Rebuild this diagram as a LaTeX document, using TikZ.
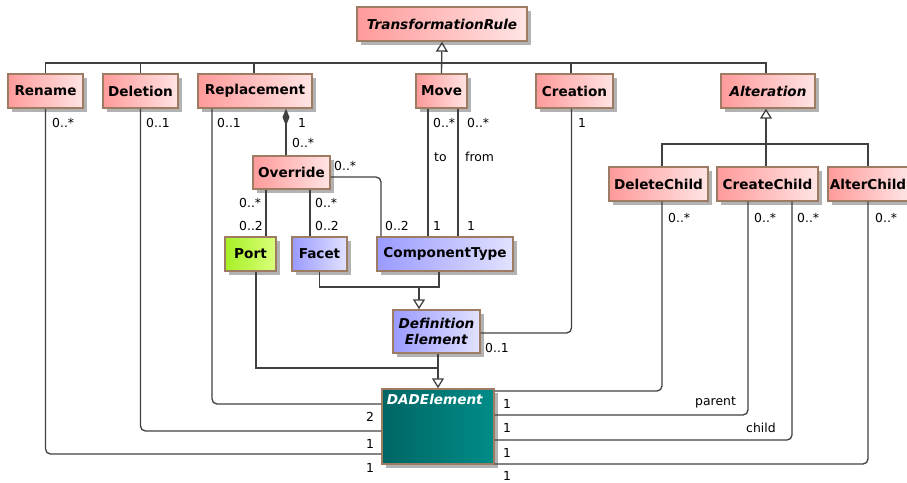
\documentclass[tikz,border=0pt]{standalone}
\usepackage{fontspec}
\setmainfont{DejaVu Sans}
\usetikzlibrary{arrows.meta,shadows}
\definecolor{RuleRed}{HTML}{FF9A9A}
\definecolor{RuleRedLight}{HTML}{FFE4E4}
\definecolor{DefBlue}{HTML}{9A9AFF}
\definecolor{DefBlueLight}{HTML}{E2E2FF}
\definecolor{PortGreen}{HTML}{A6F026}
\definecolor{PortGreenLight}{HTML}{DAFF7A}
\definecolor{DadTeal}{HTML}{006664}
\definecolor{DadTealLight}{HTML}{008C88}
\definecolor{BoxBorder}{HTML}{9E7C64}
\definecolor{LineGray}{HTML}{404040}

\tikzset{
  umlclass/.style={draw=BoxBorder, line width=1.4pt, minimum height=34pt, inner sep=0pt,
    font=\fontsize{13.6}{16}\selectfont\bfseries,
    drop shadow={shadow xshift=4pt, shadow yshift=-4pt, fill=black!30, opacity=1}},
  rulebox/.style={umlclass, left color=RuleRed, right color=RuleRedLight},
  defbox/.style={umlclass, left color=DefBlue, right color=DefBlueLight},
  portbox/.style={umlclass, left color=PortGreen, right color=PortGreenLight},
  dadbox/.style={umlclass, left color=DadTeal, right color=DadTealLight},
  link/.style={draw=LineGray, line width=1.3pt},
  roundlink/.style={link, rounded corners=5pt},
  gen/.style={link, -{Triangle[open, length=10pt, width=12pt]}},
  comp/.style={link, {Diamond[length=17pt, width=7pt, fill=LineGray]}-},
  mult/.style={inner sep=0pt, anchor=base west, font=\fontsize{12.4}{14}\selectfont}
}

\begin{document}
\begin{tikzpicture}[x=1pt, y=-1pt]
    \useasboundingbox (0,0) rectangle (907,482);

    \node[rulebox, minimum width=170pt] (rule) at (442,24) {\textit{TransformationRule}};
    \node[rulebox, minimum width=75pt] (rename) at (45.5,91) {Rename};
    \node[rulebox, minimum width=75pt] (deletion) at (140.5,91) {Deletion};
    \node[rulebox, minimum width=114pt] (replacement) at (255,91) {Replacement};
    \node[rulebox, minimum width=51pt] (move) at (441.5,91) {Move};
    \node[rulebox, minimum width=77pt] (creation) at (574.5,91) {Creation};
    \node[rulebox, minimum width=94pt] (alteration) at (768,91) {\textit{Alteration}};
    \node[rulebox, minimum width=99pt] (deletechild) at (658.5,184) {DeleteChild};
    \node[rulebox, minimum width=101pt] (createchild) at (767.5,184) {CreateChild};
    \node[rulebox, minimum width=80pt] (alterchild) at (868,184) {AlterChild};
    \node[rulebox, minimum width=77pt, minimum height=33pt] (override) at (291.5,172.5) {Override};
    \node[portbox, minimum width=51pt] (port) at (250.5,254) {Port};
    \node[defbox, minimum width=55pt] (facet) at (319.5,254) {Facet};
    \node[defbox, minimum width=136pt] (comptype) at (445,254) {ComponentType};
    \node[defbox, minimum width=87pt, minimum height=43pt, align=center] (defelem) at (436.5,331.5)
      {\textit{Definition}\\\textit{Element}};
    \node[dadbox, minimum width=112pt, minimum height=75pt] (dad) at (438,426.5) {};
    \node[inner sep=0pt, anchor=north, text=white, font=\fontsize{13.6}{16}\selectfont\bfseries]
      (dadname) at ([xshift=-3pt, yshift=-6pt]dad.north) {\textit{DADElement}};

    \coordinate (trbus) at (442,63);
    \coordinate (altbus) at (766,144);
    \coordinate (defjoin) at (419,287);
    \coordinate (dadjoin) at (438,368);

    \draw[gen] (move.north) -- (rule.south);
    \draw[link] (rename.north) |- (trbus);
    \draw[link] ([xshift=-2pt]alteration.north) |- (trbus);
    \draw[link] (deletion.north) -- (deletion.north |- trbus);
    \draw[link] ([xshift=-1pt]replacement.north) -- ([xshift=-1pt]replacement.north |- trbus);
    \draw[link] ([xshift=-3.5pt]creation.north) -- ([xshift=-3.5pt]creation.north |- trbus);

    \draw[gen] ([xshift=-1.5pt]createchild.north) -- ([xshift=-2pt]alteration.south);
    \draw[link] ([xshift=3.5pt]deletechild.north) |- (altbus) -| (alterchild.north);

    \draw[comp] ([xshift=31pt]replacement.south) -- ([xshift=-5.5pt]override.north);
    \draw[link] ([xshift=-25.5pt]override.south) -- ([xshift=15.5pt]port.north);
    \draw[link] ([xshift=18.5pt]override.south) -- ([xshift=-9.5pt]facet.north);
    \draw[roundlink] ([yshift=-4.5pt]override.east) -| ([xshift=-64pt]comptype.north);
    \draw[link] ([xshift=-13.5pt]move.south) -- ([xshift=-17pt]comptype.north);
    \draw[link] ([xshift=16.5pt]move.south) -- ([xshift=13pt]comptype.north);

    \draw[link] (facet.south) |- (defjoin) -| ([xshift=-6pt]comptype.south);
    \draw[gen] (defjoin) -- (defjoin |- defelem.north);
    \draw[roundlink] ([xshift=-3pt]creation.south) |- ([yshift=-1.5pt]defelem.east);
    \draw[link] ([xshift=5.5pt]port.south) |- (dadjoin);
    \draw[gen] ([xshift=1.5pt]defelem.south) -- (dad.north);

    \draw[roundlink] (rename.south) |- ([yshift=-27.5pt]dad.west);
    \draw[roundlink] (deletion.south) |- ([yshift=-4.5pt]dad.west);
    \draw[roundlink] ([xshift=-43pt]replacement.south) |- ([yshift=22.5pt]dad.west);
    \draw[roundlink] ([xshift=3.5pt]deletechild.south) |- ([yshift=35.5pt]dad.east);
    \draw[roundlink] ([xshift=-19.5pt]createchild.south) |- ([yshift=11.5pt]dad.east);
    \draw[roundlink] ([xshift=24.5pt]createchild.south) |- ([yshift=-13.5pt]dad.east);
    \draw[roundlink] (alterchild.south) |- ([yshift=-37.5pt]dad.east);

    \node[mult] (renamemult) at (52,127.5) {0..*};
    \node[mult] (deletionmult) at (146,127.5) {0..1};
    \node[mult] (replacementmult) at (217,127.5) {0..1};
    \node[mult] (compone) at (298,127.5) {1};
    \node[mult] (compmany) at (292,147.5) {0..*};
    \node[mult] (overridect) at (334,170.5) {0..*};
    \node[mult] (tomult) at (433,127.5) {0..*};
    \node[mult] (torole) at (434,161.5) {to};
    \node[mult] (frommult) at (467,127.5) {0..*};
    \node[mult] (fromrole) at (465,161.5) {from};
    \node[mult] (creationmult) at (578,127.5) {1};
    \node[mult] (deletechildmult) at (668,222.5) {0..*};
    \node[mult] (parentmult) at (754,222.5) {0..*};
    \node[mult] (childmult) at (797,222.5) {0..*};
    \node[mult] (alterchildmult) at (875,222.5) {0..*};
    \node[mult] (portmany) at (239,207.5) {0..*};
    \node[mult] (porttwo) at (239,230.5) {0..2};
    \node[mult] (facetmany) at (315,207.5) {0..*};
    \node[mult] (facettwo) at (315,230.5) {0..2};
    \node[mult] (cttwo) at (385,230.5) {0..2};
    \node[mult] (ctto) at (433,230.5) {1};
    \node[mult] (ctfrom) at (467,230.5) {1};
    \node[mult] (defelemmult) at (485,352.5) {0..1};
    \node[mult] (dadreplacement) at (366,421.5) {2};
    \node[mult] (daddeletion) at (366,448.5) {1};
    \node[mult] (dadrename) at (366,472.5) {1};
    \node[mult] (daddeletechild) at (503,408.5) {1};
    \node[mult] (dadparent) at (503,432.5) {1};
    \node[mult] (dadchild) at (503,457.5) {1};
    \node[mult] (dadalterchild) at (503,480.5) {1};
    \node[mult] (parentrole) at (695,405.5) {parent};
    \node[mult] (childrole) at (746,432.5) {child};
  \end{tikzpicture}
\end{document}
